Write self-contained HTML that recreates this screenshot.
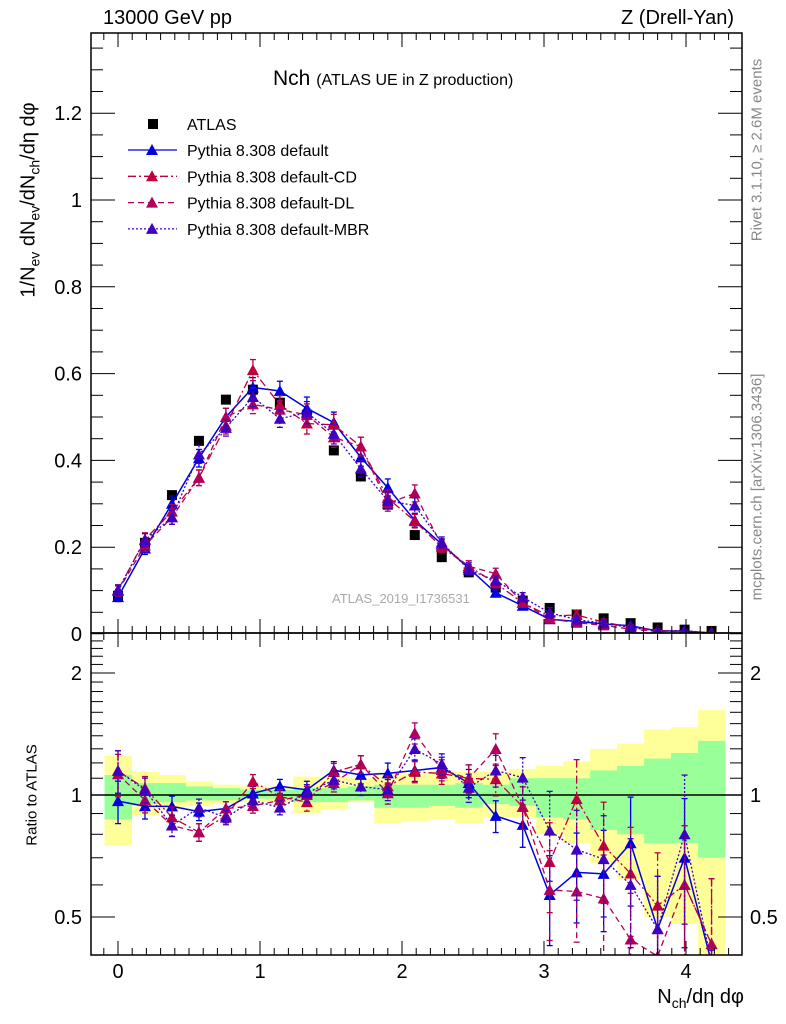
<!DOCTYPE html>
<html><head><meta charset="utf-8"><style>
html,body{margin:0;background:#fff;width:786px;height:1024px;overflow:hidden;}
svg{display:block;font-family:"Liberation Sans",sans-serif;}
</style></head><body>
<svg id="c" width="786" height="1024" viewBox="0 0 786 1024" xmlns="http://www.w3.org/2000/svg"></svg>
<script>
const xs=[0,0.19,0.38,0.57,0.76,0.95,1.14,1.33,1.52,1.71,1.9,2.09,2.28,2.47,2.66,2.85,3.04,3.23,3.42,3.61,3.8,3.99,4.18];
const atlas=[0.088,0.21,0.32,0.445,0.54,0.563,0.533,0.505,0.423,0.363,0.298,0.228,0.177,0.142,0.107,0.077,0.06,0.045,0.036,0.025,0.015,0.01,0.007];
const greenUp=[1.12,1.07,1.07,1.05,1.04,1.03,1.03,1.04,1.04,1.05,1.06,1.06,1.06,1.07,1.06,1.1,1.1,1.1,1.15,1.18,1.23,1.27,1.36];
const greenLo=[0.87,0.95,0.96,0.97,0.97,0.98,0.98,0.96,0.96,0.97,0.93,0.93,0.94,0.93,0.95,0.94,0.88,0.87,0.82,0.8,0.76,0.76,0.7];
const yellowUp=[1.25,1.14,1.12,1.08,1.06,1.05,1.05,1.11,1.11,1.1,1.13,1.13,1.14,1.14,1.14,1.16,1.18,1.21,1.3,1.34,1.45,1.47,1.62];
const yellowLo=[0.75,0.89,0.92,0.94,0.95,0.96,0.96,0.9,0.92,0.96,0.85,0.86,0.87,0.85,0.88,0.88,0.8,0.76,0.68,0.62,0.5,0.48,0.4];
const mcDefault=[0.085,0.197,0.30,0.405,0.50,0.568,0.56,0.52,0.487,0.407,0.337,0.262,0.207,0.152,0.095,0.065,0.034,0.029,0.023,0.019,0.007,0.007,0.002];
const mcCD=[0.101,0.218,0.282,0.36,0.48,0.608,0.528,0.485,0.482,0.432,0.313,0.26,0.2,0.156,0.117,0.072,0.041,0.044,0.027,0.016,0.008,0.006,0.003];
const mcDL=[0.099,0.204,0.269,0.36,0.50,0.529,0.517,0.505,0.453,0.432,0.301,0.324,0.204,0.156,0.139,0.072,0.035,0.026,0.02,0.011,0.006,0.006,0.003];
const mcMBR=[0.101,0.216,0.269,0.414,0.475,0.546,0.496,0.51,0.461,0.381,0.307,0.296,0.211,0.148,0.123,0.085,0.049,0.033,0.025,0.015,0.007,0.008,0.002];
const mcRelErr=[0.12,0.07,0.06,0.05,0.04,0.04,0.04,0.05,0.05,0.05,0.06,0.06,0.06,0.08,0.09,0.12,0.25,0.25,0.28,0.3,0.35,0.4,0.45];
const mainTicks=[0,0.2,0.4,0.6,0.8,1,1.2];
const mainTickLabels=["0","0.2","0.4","0.6","0.8","1","1.2"];
const ratioTicks=[0.5,1,2];
const ratioTickLabels=["0.5","1","2"];
const xTicks=[0,1,2,3,4];
const xTickLabels=["0","1","2","3","4"];

const NS="http://www.w3.org/2000/svg";
const svg=document.getElementById('c');
const L=91,R=742,T=33,M=633,B=955;
const X=v=>118+v*142;
const Y=v=>634-v*434;
const RYraw=v=>795-Math.log(v)*176;
const RY=v=>Math.min(Math.max(RYraw(Math.max(v,1e-6)),M-5),B+8);
function el(tag,attrs,parent){const e=document.createElementNS(NS,tag);for(const k in attrs)e.setAttribute(k,attrs[k]);(parent||svg).appendChild(e);return e;}
function txt(s,attrs,parent){const e=el('text',attrs,parent);e.textContent=s;return e;}

const defs=el('defs',{});
const c1=el('clipPath',{id:'cm'},defs);el('rect',{x:L,y:T,width:R-L,height:M-T},c1);
const c2=el('clipPath',{id:'cr'},defs);el('rect',{x:L,y:M,width:R-L,height:B-M},c2);

const gBands=el('g',{'clip-path':'url(#cr)'});


const hw=0.095;
xs.forEach((x,i)=>{
  const y1=el('rect',{x:X(x-hw),y:RY(yellowUp[i]),width:X(x+hw)-X(x-hw)+0.5,height:RY(yellowLo[i])-RY(yellowUp[i]),fill:'#ffff99'},gBands);
  
  
});
xs.forEach((x,i)=>{
  const g1=el('rect',{x:X(x-hw),y:RY(greenUp[i]),width:X(x+hw)-X(x-hw)+0.5,height:RY(greenLo[i])-RY(greenUp[i]),fill:'#99ff99'},gBands);
  
  
});
el('line',{x1:L,x2:R,y1:RY(1),y2:RY(1),stroke:'#000','stroke-width':1.5},gBands);

const series=[
 {name:'default',vals:mcDefault,color:'#0000e0',dash:'',w:1.5},
 {name:'default-cd',vals:mcCD,color:'#c0003c',dash:'8,3,2,3',w:1.3},
 {name:'default-dl',vals:mcDL,color:'#b0005a',dash:'6,4',w:1.3},
 {name:'default-mbr',vals:mcMBR,color:'#4000c0',dash:'2,2',w:1.3}
];
function tri(g,cx,cy,col){el('path',{d:`M${cx},${cy-6}L${cx+6},${cy+5}L${cx-6},${cy+5}Z`,fill:col},g);}
function drawSeries(s,panel){
  const g=el('g',{'clip-path':panel==='main'?'url(#cm)':'url(#cr)'});
  
  
  const fy=(i)=>panel==='main'?Y(s.vals[i]):RY(s.vals[i]/atlas[i]);
  let d='';
  xs.forEach((x,i)=>{d+=(i?'L':'M')+X(x)+','+fy(i);});
  el('path',{d,fill:'none',stroke:s.color,'stroke-width':s.w,'stroke-dasharray':s.dash},g);
  xs.forEach((x,i)=>{
    const v=s.vals[i],e=v*mcRelErr[i];
    let ya,yb;
    if(panel==='main'){ya=Y(v+e);yb=Y(v-e);}else{ya=RY((v+e)/atlas[i]);yb=RY((v-e)/atlas[i]);}
    el('line',{x1:X(x),x2:X(x),y1:ya,y2:yb,stroke:s.color,'stroke-width':1.3,'stroke-dasharray':s.dash},g);
    el('line',{x1:X(x)-3,x2:X(x)+3,y1:ya,y2:ya,stroke:s.color,'stroke-width':1.3},g);
    el('line',{x1:X(x)-3,x2:X(x)+3,y1:yb,y2:yb,stroke:s.color,'stroke-width':1.3},g);
    const cy=fy(i);
    if(cy<B+5) tri(g,X(x),cy,s.color);
  });
}
const gd=el('g',{'clip-path':'url(#cm)'});


xs.forEach((x,i)=>{
  const r=el('rect',{x:X(x)-5,y:Y(atlas[i])-5,width:10,height:10,fill:'#000'},gd);
  
  
});
series.forEach(s=>{drawSeries(s,'main');drawSeries(s,'ratio');});

el('rect',{x:L,y:T,width:R-L,height:M-T,fill:'none',stroke:'#000','stroke-width':1.5});
el('rect',{x:L,y:M,width:R-L,height:B-M,fill:'none',stroke:'#000','stroke-width':1.5});
const ax=el('g',{stroke:'#000','stroke-width':1});


for(let k=-1;k<=44;k++){const v=k/10;const px=X(v);if(px<=L||px>=R)continue;const major=k%10===0;const len=major?14:7;
  [[T,1],[M,-1],[M,1],[B,-1]].forEach(([yy,dir])=>el('line',{x1:px,x2:px,y1:yy,y2:yy+dir*len},ax));}
for(let k=1;k<28;k++){const v=k*0.05;const py=Y(v);if(py<=T)continue;const major=k%4===0;const len=major?24:12;
  el('line',{x1:L,x2:L+len,y1:py,y2:py},ax);el('line',{x1:R,x2:R-len,y1:py,y2:py},ax);}
for(let v=0.4;v<=2.5;v=Math.round((v+0.1)*10)/10){const py=RYraw(v);if(py<=M||py>=B)continue;const major=[0.5,1,2].includes(v);const len=major?24:12;
  el('line',{x1:L,x2:L+len,y1:py,y2:py},ax);el('line',{x1:R,x2:R-len,y1:py,y2:py},ax);}

mainTicks.forEach((v,i)=>{const t=txt(mainTickLabels[i],{x:82,y:Y(v)+7,'font-size':20,'text-anchor':'end'});});
ratioTicks.forEach((v,i)=>{
  const t=txt(ratioTickLabels[i],{x:82,y:RYraw(v)+7,'font-size':20,'text-anchor':'end'});
  const t2=txt(ratioTickLabels[i],{x:750,y:RYraw(v)+7,'font-size':20});});
xTicks.forEach((v,i)=>{const t=txt(xTickLabels[i],{x:X(v),y:978,'font-size':20,'text-anchor':'middle'});});

const lg=el('g',{});


el('rect',{x:148,y:119,width:10,height:10,fill:'#000'},lg);
txt('ATLAS',{x:187,y:130,'font-size':16},lg);
const names=['Pythia 8.308 default','Pythia 8.308 default-CD','Pythia 8.308 default-DL','Pythia 8.308 default-MBR'];
series.forEach((s,i)=>{const yy=150+i*26.3;
  el('line',{x1:128,x2:177,y1:yy,y2:yy,stroke:s.color,'stroke-width':1.3,'stroke-dasharray':s.dash},lg);
  tri(lg,152,yy,s.color);
  txt(names[i],{x:187,y:yy+6,'font-size':16},lg);});
</script>
<div style="position:absolute;left:0;top:0;width:786px;height:1024px;overflow:hidden;pointer-events:none;font-family:'Liberation Sans',sans-serif;">
<div style="position:absolute;left:103px;top:7px;font-size:20px;">13000 GeV pp</div>
<div style="position:absolute;right:52px;top:7px;font-size:20px;">Z (Drell-Yan)</div>
<div style="position:absolute;left:273px;top:67px;font-size:21px;">Nch <span style="font-size:16px">(ATLAS UE in Z production)</span></div>
<div style="position:absolute;left:332px;top:591px;font-size:13px;color:#aaa;">ATLAS_2019_I1736531</div>
<div style="position:absolute;left:30px;top:200px;transform:translate(-50%,-50%) rotate(-90deg);white-space:nowrap;font-size:20px;">1/N<sub style="font-size:14px">ev</sub> dN<sub style="font-size:14px">ev</sub>/dN<sub style="font-size:14px">ch</sub>/dη dφ</div>
<div style="position:absolute;left:32px;top:795px;transform:translate(-50%,-50%) rotate(-90deg);white-space:nowrap;font-size:15px;">Ratio to ATLAS</div>
<div style="position:absolute;right:42px;top:985px;font-size:20px;line-height:24px;">N<sub style="font-size:14px;line-height:0">ch</sub>/dη dφ</div>
<div style="position:absolute;left:757px;top:150px;transform:translate(-50%,-50%) rotate(-90deg);white-space:nowrap;font-size:15px;color:#888;">Rivet 3.1.10, ≥ 2.6M events</div>
<div style="position:absolute;left:757px;top:487px;transform:translate(-50%,-50%) rotate(-90deg);white-space:nowrap;font-size:15px;color:#888;">mcplots.cern.ch [arXiv:1306.3436]</div>
</div>
</body></html>
